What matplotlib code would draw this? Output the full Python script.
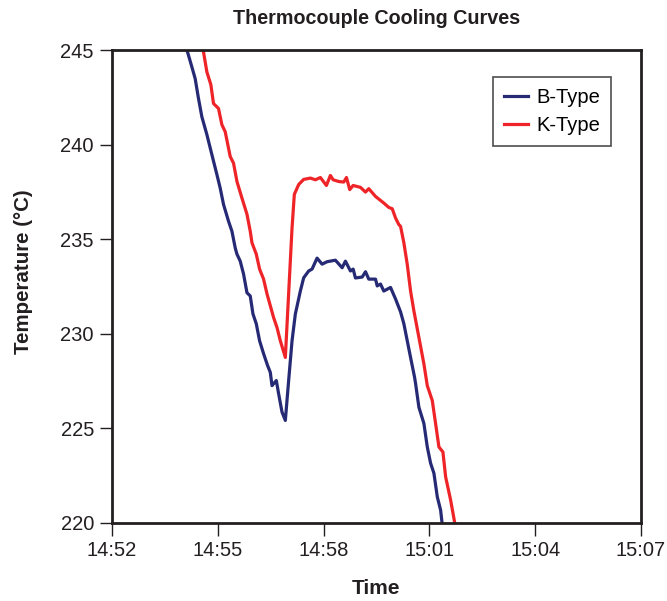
import matplotlib
matplotlib.use("Agg")
import matplotlib.pyplot as plt

plt.rcParams['font.family'] = ['Liberation Sans', 'DejaVu Sans']

# time in minutes after 14:52
b_time = [2.10, 2.264, 2.358, 2.452, 2.548, 2.690, 2.832, 2.974, 3.068, 3.162, 3.304, 3.401,
          3.494, 3.543, 3.636, 3.730, 3.827, 3.920, 3.997, 4.091, 4.185, 4.298, 4.412, 4.489,
          4.537, 4.659, 4.724, 4.821, 4.915, 5.009, 5.105, 5.199, 5.341, 5.435, 5.577, 5.673,
          5.815, 5.957, 6.099, 6.335, 6.526, 6.619, 6.761, 6.838, 6.903, 7.094, 7.188, 7.281,
          7.472, 7.520, 7.614, 7.707, 7.898, 8.040, 8.182, 8.276, 8.372, 8.466, 8.580, 8.608,
          8.702, 8.844, 8.940, 9.034, 9.128, 9.224, 9.318, 9.375]
b_temp = [245.16, 244.11, 243.49, 242.44, 241.47, 240.53, 239.47, 238.42, 237.70, 236.84, 235.95, 235.42,
          234.54, 234.21, 233.84, 233.16, 232.17, 232.00, 231.05, 230.53, 229.63, 228.95, 228.32, 227.96,
          227.26, 227.53, 226.84, 225.86, 225.42, 227.53, 229.63, 231.05, 232.26, 232.96, 233.32, 233.42,
          234.00, 233.68, 233.81, 233.89, 233.49, 233.84, 233.32, 233.42, 232.95, 233.00, 233.28, 232.89,
          232.89, 232.53, 232.63, 232.26, 232.45, 231.84, 231.16, 230.53, 229.63, 228.75, 227.70, 227.37,
          226.12, 225.26, 224.02, 223.16, 222.63, 221.38, 220.68, 219.74]

k_time = [2.571, 2.690, 2.804, 2.878, 3.020, 3.116, 3.210, 3.352, 3.446, 3.543, 3.685, 3.827,
          3.920, 3.969, 4.091, 4.185, 4.298, 4.395, 4.582, 4.679, 4.773, 4.915,
          5.105, 5.170, 5.293, 5.435, 5.625, 5.767, 5.909, 6.080, 6.193, 6.270, 6.429,
          6.571, 6.648, 6.741, 6.838, 7.045, 7.188, 7.281, 7.472, 7.707, 7.849, 7.946, 8.040,
          8.134, 8.182, 8.276, 8.372, 8.466, 8.560, 8.702, 8.844, 8.940, 9.082, 9.176, 9.270,
          9.384, 9.460, 9.602, 9.744]
k_temp = [245.16, 243.84, 243.16, 242.17, 241.91, 241.05, 240.68, 239.37, 239.02, 238.05, 237.17, 236.32,
          235.42, 234.81, 234.21, 233.42, 232.89, 232.11, 230.86, 230.33, 229.63, 228.75,
          235.59, 237.37, 237.89, 238.16, 238.23, 238.14, 238.26, 237.84, 238.37, 238.14, 238.05,
          238.02, 238.26, 237.62, 237.84, 237.74, 237.49, 237.67, 237.26, 236.91, 236.68, 236.61, 236.12,
          235.77, 235.68, 234.81, 233.67, 232.26, 231.21, 229.81, 228.41, 227.26, 226.47, 225.25, 224.02,
          223.75, 222.44, 221.21, 219.74]

x_ticks = [0, 3, 6, 9, 12, 15]
x_labels = ['14:52', '14:55', '14:58', '15:01', '15:04', '15:07']
y_ticks = [220, 225, 230, 235, 240, 245]

fig = plt.figure(figsize=(6.67, 6.01), dpi=100)
ax = fig.add_axes([112/667, 78/601, 529/667, 473/601])

ax.plot(b_time, b_temp, color='#262a75', lw=2.3, label='B-Type')
ax.plot(k_time, k_temp, color='#ee2428', lw=2.3, label='K-Type')

ax.set_xlim(0, 15)
ax.set_ylim(220, 245)
ax.set_xticks(x_ticks)
ax.set_xticklabels(x_labels)
ax.set_yticks(y_ticks)

for s in ax.spines.values():
    s.set_linewidth(2.0)
    s.set_color('#231f20')
ax.tick_params(direction='out', length=9, width=1.0, color='#231f20',
               labelsize=14.5, labelcolor='#231f20', pad=4)

ax.set_title('Thermocouple Cooling Curves', fontsize=14.2, fontweight='bold', color='#231f20', pad=19)
ax.set_xlabel('Time', fontsize=15, fontweight='bold', color='#231f20')
ax.xaxis.set_label_coords(0.5, -0.118)
ax.set_ylabel('Temperature (°C)', fontsize=14.8, fontweight='bold', color='#231f20')
ax.yaxis.set_label_coords(-0.149, 0.531)

leg = ax.legend(loc='upper right', bbox_to_anchor=(0.943, 0.943), fontsize=14.5,
                frameon=True, fancybox=False, edgecolor='#231f20', handlelength=1.2,
                handletextpad=0.4, borderpad=0.55, labelspacing=0.45, borderaxespad=0)
leg.get_frame().set_linewidth(1.2)

fig.savefig('out.png', dpi=100)
